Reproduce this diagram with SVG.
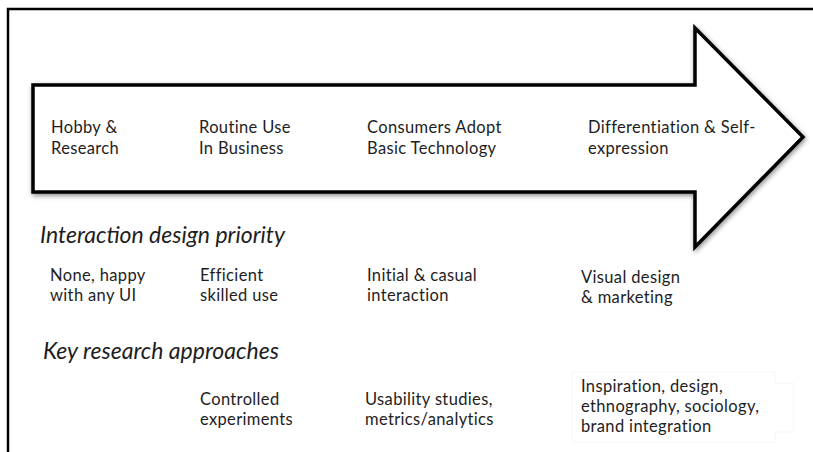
<svg xmlns="http://www.w3.org/2000/svg" width="813" height="452" viewBox="0 0 813 452">
  <defs>
    <style>
      .t { font-family: Lato, "Liberation Sans", sans-serif; font-size: 16.5px; letter-spacing: 0.35px; fill: #1e1e1e; }
      .h { font-family: Lato, "Liberation Sans", sans-serif; font-size: 23px; font-style: italic; fill: #1e1e1e; }
      .frame { fill: none; stroke: #000; stroke-width: 2.5; }
      .arrow { fill: #fff; stroke: #000; stroke-width: 3.5; stroke-linejoin: miter; }
    </style>
    <filter id="shadow" x="-5%" y="-10%" width="110%" height="125%">
      <feDropShadow dx="1" dy="2" stdDeviation="2.5" flood-color="#000" flood-opacity="0.45"/>
    </filter>
  </defs>
  <rect width="813" height="452" fill="#fff"/>
  <path class="frame" d="M8,452 L8,9 L813,9"/>

  <g id="arrow">
    <polygon class="arrow" filter="url(#shadow)" points="33,85 695,85 695,28 803,137 695,247 695,192 33,192"/>
  </g>

  <g id="stages">
    <g id="stage-hobby"><text class="t" x="51" y="133">Hobby &amp;<tspan x="51" dy="21">Research</tspan></text></g>
    <g id="stage-routine"><text class="t" x="199" y="133">Routine Use<tspan x="199" dy="21">In Business</tspan></text></g>
    <g id="stage-consumers"><text class="t" x="367" y="133">Consumers Adopt<tspan x="367" dy="21">Basic Technology</tspan></text></g>
    <g id="stage-differentiation"><text class="t" x="588" y="133">Differentiation &amp; Self-<tspan x="588" dy="21">expression</tspan></text></g>
  </g>

  <g id="heading-priority"><text class="h" x="40" y="243">Interaction design priority</text></g>
  <g id="priorities">
    <g id="p1"><text class="t" x="50" y="281">None, happy<tspan x="50" dy="20">with any UI</tspan></text></g>
    <g id="p2"><text class="t" x="200" y="281">Efficient<tspan x="200" dy="20">skilled use</tspan></text></g>
    <g id="p3"><text class="t" x="367" y="281">Initial &amp; casual<tspan x="367" dy="20">interaction</tspan></text></g>
    <g id="p4"><text class="t" x="581" y="283">Visual design<tspan x="581" dy="20">&amp; marketing</tspan></text></g>
  </g>

  <g id="heading-research"><text class="h" x="43" y="359">Key research approaches</text></g>
  <g id="research">
    <g id="r2"><text class="t" x="200" y="405">Controlled<tspan x="200" dy="20">experiments</tspan></text></g>
    <g id="r3"><text class="t" x="365" y="405">Usability studies,<tspan x="365" dy="20">metrics/analytics</tspan></text></g>
    <g id="r4">
      <path d="M572,372 H775 V383 H793 V432 H775 V442 H572 Z" fill="#fff" stroke="#f6f6f6" stroke-width="1"/>
      <text class="t" x="581" y="392">Inspiration, design,<tspan x="581" dy="20">ethnography, sociology,</tspan><tspan x="581" dy="20">brand integration</tspan></text>
    </g>
  </g>
  <g id="connectors"/>
</svg>
